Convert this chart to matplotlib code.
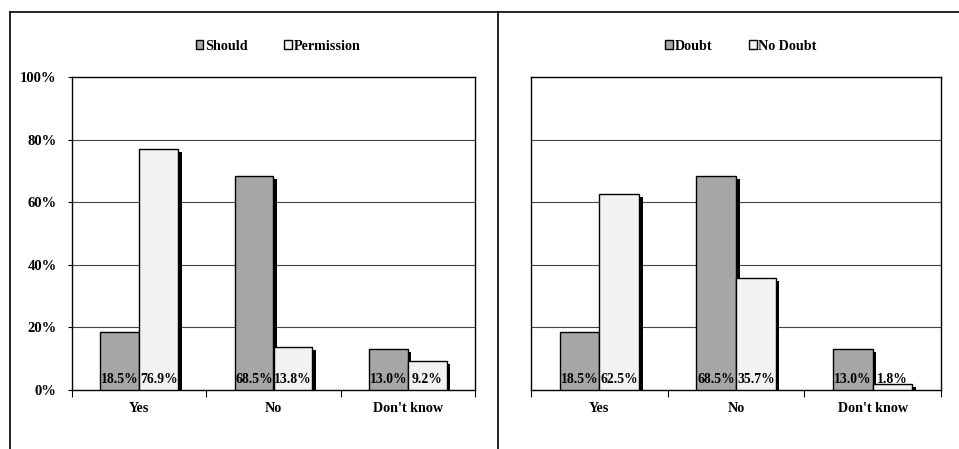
import matplotlib
matplotlib.use("Agg")
import matplotlib.pyplot as plt
import matplotlib.patheffects as pe
from matplotlib.lines import Line2D
from matplotlib.patches import Patch
import numpy as np

categories = ["Yes", "No", "Don't know"]
left_series = ["Should", "Permission"]
left_should = [18.5, 68.5, 13.0]
left_permission = [76.9, 13.8, 9.2]
right_series = ["Doubt", "No Doubt"]
right_doubt = [18.5, 68.5, 13.0]
right_nodoubt = [62.5, 35.7, 1.8]
yticks = [0, 20, 40, 60, 80, 100]
ytick_labels = ["0%", "20%", "40%", "60%", "80%", "100%"]

plt.rcParams['font.family'] = ['Liberation Serif', 'DejaVu Serif']
plt.rcParams['font.weight'] = 'bold'

W, H = 959, 449
fig = plt.figure(figsize=(W / 100, H / 100), dpi=100)
fig.patch.set_facecolor('white')

GRAY = '#A6A6A6'
LIGHT = '#F2F2F2'

def px_axes(x0, y0, x1, y1):
    return fig.add_axes([x0 / W, 1 - y1 / H, (x1 - x0) / W, (y1 - y0) / H])

def draw_panel(ax, s1, s2, names, show_y, legend_cx):
    x = np.arange(len(categories))
    bw = 0.29
    shadow = [pe.SimplePatchShadow(offset=(2.6, -2.2), shadow_rgbFace='black', alpha=1.0), pe.Normal()]
    b1 = ax.bar(x - bw / 2, s1, bw, color=GRAY, edgecolor='black', linewidth=1.0, zorder=3)
    b2 = ax.bar(x + bw / 2, s2, bw, color=LIGHT, edgecolor='black', linewidth=1.0, zorder=3)
    for b in list(b1) + list(b2):
        b.set_path_effects(shadow)
    for xi, v in zip(x - bw / 2, s1):
        ax.text(xi, 3.5, f"{v:.1f}%", ha='center', va='center', fontsize=9.8, fontweight='bold', zorder=5)
    for xi, v in zip(x + bw / 2, s2):
        ax.text(xi, 3.5, f"{v:.1f}%", ha='center', va='center', fontsize=9.8, fontweight='bold', zorder=5)
    ax.set_xlim(-0.5, len(categories) - 0.5)
    ax.set_ylim(0, 100)
    ax.set_yticks(yticks)
    for yv in yticks[1:-1]:
        ax.axhline(yv, color='#444444', linewidth=0.8, zorder=1)
    if show_y:
        ax.set_yticklabels(ytick_labels, fontsize=10.5, fontweight='bold')
        ax.tick_params(axis='y', length=3, width=0.8, pad=8)
    else:
        ax.set_yticklabels([])
        ax.tick_params(axis='y', length=0)
    ax.set_xticks(x)
    ax.set_xticklabels(categories, fontsize=10.2, fontweight='bold')
    ax.tick_params(axis='x', length=0, pad=9)
    ax.set_xticks(np.arange(len(categories) + 1) - 0.5, minor=True)
    ax.tick_params(axis='x', which='minor', length=5, width=0.8)
    for s in ax.spines.values():
        s.set_linewidth(1.0)
        s.set_color('black')
    handles = [Patch(facecolor=GRAY, edgecolor='black', linewidth=1.0),
               Patch(facecolor=LIGHT, edgecolor='black', linewidth=1.0)]
    fig.legend(handles, names, loc='center', bbox_to_anchor=(legend_cx / W, 1 - 46 / H),
               ncol=2, frameon=False, handlelength=0.55, handleheight=0.55,
               handletextpad=0.1, columnspacing=2.6, prop={'weight': 'bold', 'size': 10.2})

axL = px_axes(72, 77, 475, 390)
draw_panel(axL, left_should, left_permission, left_series, True, 278)
axR = px_axes(531, 77, 941, 390)
draw_panel(axR, right_doubt, right_nodoubt, right_series, False, 741)

# outer frame lines
fig.add_artist(Line2D([10 / W, 1], [1 - 12 / H, 1 - 12 / H], color='black', linewidth=1.2, transform=fig.transFigure))
fig.add_artist(Line2D([10 / W, 10 / W], [0, 1 - 12 / H], color='black', linewidth=1.2, transform=fig.transFigure))
fig.add_artist(Line2D([498 / W, 498 / W], [0, 1 - 12 / H], color='black', linewidth=1.2, transform=fig.transFigure))

fig.savefig("out.png", dpi=100, facecolor='white')
